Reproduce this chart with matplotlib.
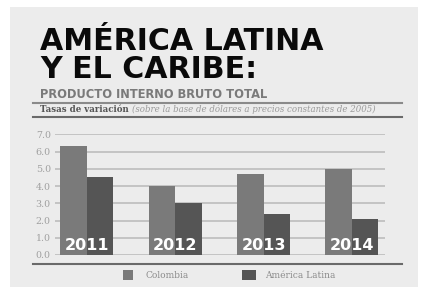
import numpy as np
import matplotlib.pyplot as plt
from matplotlib.patches import Rectangle
from matplotlib.lines import Line2D

years = ['2011', '2012', '2013', '2014']
colombia = [6.3, 4.0, 4.7, 5.0]
america_latina = [4.5, 3.0, 2.4, 2.1]
yticks = [0, 1, 2, 3, 4, 5, 6, 7]

W, H = 425, 287
fig = plt.figure(figsize=(W / 100, H / 100), dpi=100)
fig.patch.set_facecolor('white')


def fx(px):
    return px / W


def fy(py):
    return 1 - py / H


# grey panel
fig.patches.append(Rectangle((fx(10), 0), fx(408), fy(7), transform=fig.transFigure,
                             facecolor='#ececec', edgecolor='none', zorder=-5))

# titles
title_font = dict(family='DejaVu Sans', weight='heavy', color='#0a0a0a')
fig.text(fx(40), fy(50), 'AMÉRICA LATINA', fontsize=21.6, va='baseline', **title_font)
fig.text(fx(40), fy(78), 'Y EL CARIBE:', fontsize=21.6, va='baseline', **title_font)
fig.text(fx(40.5), fy(98), 'PRODUCTO INTERNO BRUTO TOTAL', fontsize=8.3, weight='bold',
         color='#7a7a7a', family='DejaVu Sans', va='baseline')
fig.lines.append(Line2D([fx(33), fx(402)], [fy(102.5), fy(102.5)], transform=fig.transFigure,
                        color='#8a8a8a', lw=1.5))
t = fig.text(fx(40.5), fy(112), 'Tasas de variación', fontsize=6.2, weight='bold',
             color='#555555', family='DejaVu Serif', va='baseline')
fig.canvas.draw()
bb = t.get_window_extent()
fig.text(fx(bb.x1 + 3), fy(112), '(sobre la base de dólares a precios constantes de 2005)',
         fontsize=6.2, style='italic', color='#9a9a9a', family='DejaVu Serif', va='baseline')
fig.lines.append(Line2D([fx(33), fx(402)], [fy(117), fy(117)], transform=fig.transFigure,
                        color='#6a6a6a', lw=1.5))

# chart
ax = fig.add_axes([fx(55), fy(255), fx(330), fy(134.3) - fy(255)])
ax.set_facecolor('none')
x = np.arange(len(years))
bw = 0.30
ax.bar(x - bw / 2, colombia, bw, color='#7a7a7a', zorder=3)
ax.bar(x + bw / 2, america_latina, bw, color='#555555', zorder=3)
for i, yr in enumerate(years):
    ax.text(i, 0.1, yr, ha='center', va='bottom', color='white', fontsize=11.5,
            weight='bold', family='DejaVu Sans', zorder=4)

ax.set_ylim(0, 7)
ax.set_xlim(-0.362, 3.375)
ax.set_yticks(yticks)
ax.set_yticklabels([f'{v:.1f}' for v in yticks], family='DejaVu Serif', fontsize=6.8,
                   color='#a0a0a0')
ax.tick_params(axis='y', length=0, pad=3)
ax.set_xticks([])
for s in ax.spines.values():
    s.set_visible(False)
for v in yticks:
    ax.axhline(v, color='#bcbcbc', lw=1.2, zorder=1)

# bottom rule and legend
fig.lines.append(Line2D([fx(33), fx(402)], [fy(264), fy(264)], transform=fig.transFigure,
                        color='#6a6a6a', lw=1.5))
fig.patches.append(Rectangle((fx(123), fy(280)), fx(10), fy(270) - fy(280),
                             transform=fig.transFigure, facecolor='#7a7a7a', edgecolor='none'))
fig.text(fx(145), fy(278), 'Colombia', fontsize=6.5, color='#8a8a8a', family='DejaVu Serif',
         va='baseline')
fig.patches.append(Rectangle((fx(242), fy(280)), fx(14), fy(270) - fy(280),
                             transform=fig.transFigure, facecolor='#555555', edgecolor='none'))
fig.text(fx(265), fy(278), 'América Latina', fontsize=6.5, color='#8a8a8a',
         family='DejaVu Serif', va='baseline')

fig.savefig('out.png', dpi=100, facecolor=fig.get_facecolor())
